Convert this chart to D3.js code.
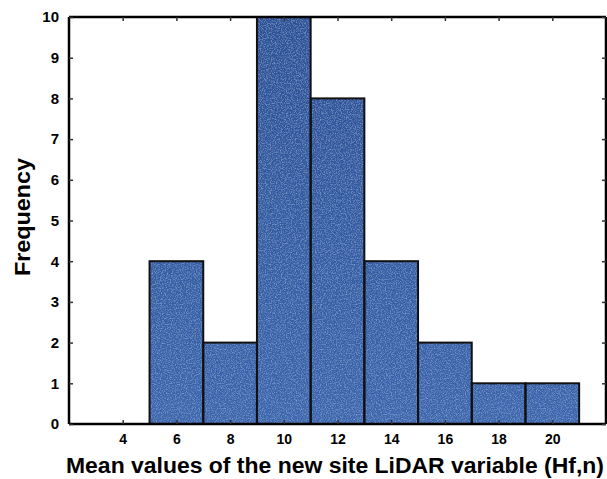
<!DOCTYPE html>
<html>
<head>
<meta charset="utf-8">
<script src="https://cdn.jsdelivr.net/npm/d3@7"></script>
<style>
  body { margin: 0; background: #fff; overflow: hidden; }
  svg { display: block; }
  text { font-family: "Liberation Sans", Arial, sans-serif; font-weight: bold; fill: #000; }
</style>
</head>
<body>
<div class="chart"></div>
<script>
// Histogram bins (lower edge, upper edge) and counts
const binStarts = [5, 7, 9, 11, 13, 15, 17, 19];
const binEnds = [7, 9, 11, 13, 15, 17, 19, 21];
const counts = [4, 2, 10, 8, 4, 2, 1, 1];
const xTicks = [4, 6, 8, 10, 12, 14, 16, 18, 20];
const yTicks = [0, 1, 2, 3, 4, 5, 6, 7, 8, 9, 10];

const outerWidth = 607;
const outerHeight = 479;
const margin = { top: 17, right: 1, bottom: 55, left: 69 };
const innerWidth = outerWidth - margin.left - margin.right;
const innerHeight = outerHeight - margin.top - margin.bottom;

const svg = d3.select('.chart')
  .append('svg')
    .attr('width', outerWidth)
    .attr('height', outerHeight);

// speckled print texture for the bars
const defs = svg.append('defs');
const filt = defs.append('filter').attr('id', 'speckle')
  .attr('x', 0).attr('y', 0).attr('width', 1).attr('height', 1);
filt.append('feTurbulence')
  .attr('type', 'fractalNoise').attr('baseFrequency', 0.8)
  .attr('numOctaves', 2).attr('seed', 3).attr('result', 'noise');
filt.append('feColorMatrix').attr('in', 'noise').attr('type', 'matrix')
  .attr('values', '0 0 0 0 0.45  0 0 0 0 0.62  0 0 0 0 0.92  0 0 0 1.0 -0.45')
  .attr('result', 'dots');
filt.append('feComposite').attr('in', 'dots').attr('in2', 'SourceGraphic')
  .attr('operator', 'atop').attr('result', 'tex');
filt.append('feMerge').call(m => {
  m.append('feMergeNode').attr('in', 'SourceGraphic');
  m.append('feMergeNode').attr('in', 'tex');
});

const chartG = svg.append('g')
  .attr('transform', `translate(${margin.left},${margin.top})`);

const x = d3.scaleLinear().domain([2, 22]).range([0, innerWidth]);
const y = d3.scaleLinear().domain([0, 10]).range([innerHeight, 0]);

const bins = counts.map((c, i) => ({ x0: binStarts[i], x1: binEnds[i], n: c }));

const grad = defs.append('linearGradient').attr('id', 'barfill')
  .attr('gradientUnits', 'userSpaceOnUse')
  .attr('x1', 0).attr('x2', 0)
  .attr('y1', 0).attr('y2', innerHeight);
grad.append('stop').attr('offset', '0%').attr('stop-color', '#2b5196');
grad.append('stop').attr('offset', '100%').attr('stop-color', '#3b66ad');

chartG.selectAll('.bar')
  .data(bins)
  .enter().append('rect')
    .attr('class', 'bar')
    .attr('x', d => x(d.x0))
    .attr('y', d => y(d.n))
    .attr('width', d => x(d.x1) - x(d.x0))
    .attr('height', d => y(0) - y(d.n))
    .attr('fill', 'url(#barfill)')
    .attr('filter', 'url(#speckle)');

chartG.selectAll('.bar-edge')
  .data(bins)
  .enter().append('rect')
    .attr('class', 'bar-edge')
    .attr('x', d => x(d.x0))
    .attr('y', d => y(d.n))
    .attr('width', d => x(d.x1) - x(d.x0))
    .attr('height', d => y(0) - y(d.n))
    .attr('fill', 'none')
    .attr('stroke', '#111')
    .attr('stroke-width', 2);

// axes with inward ticks, box style
const bottomAxis = d3.axisBottom(x).tickValues(xTicks).tickSize(-4).tickPadding(10);
const topAxis = d3.axisTop(x).tickValues(xTicks).tickSize(-4);
const leftAxis = d3.axisLeft(y).tickValues(yTicks).tickSize(-4).tickPadding(10);
const rightAxis = d3.axisRight(y).tickValues(yTicks).tickSize(-4);

const gb = chartG.append('g').attr('transform', `translate(0,${innerHeight})`).call(bottomAxis);
const gt = chartG.append('g').call(topAxis);
const gl = chartG.append('g').call(leftAxis);
const gr = chartG.append('g').attr('transform', `translate(${innerWidth},0)`).call(rightAxis);

// top and right frame carry ticks only
gt.selectAll('.tick text').remove();
gr.selectAll('.tick text').remove();

[gb, gt, gl, gr].forEach(g => {
  g.attr('font-family', '"Liberation Sans", Arial, sans-serif').attr('font-size', 14);
  g.select('.domain').attr('stroke', '#000').attr('stroke-width', 2.5);
  g.selectAll('.tick line').attr('stroke', '#333').attr('stroke-width', 1.5);
});
gl.attr('font-size', 15);
gb.selectAll('.domain').attr('d', `M0,0H${innerWidth}`);
gt.selectAll('.domain').attr('d', `M0,0H${innerWidth}`);
gl.selectAll('.domain').attr('d', `M0,0V${innerHeight}`);
gr.selectAll('.domain').attr('d', `M0,0V${innerHeight}`);

svg.append('text')
  .attr('x', 335)
  .attr('y', 473)
  .attr('text-anchor', 'middle')
  .attr('textLength', 538)
  .attr('lengthAdjust', 'spacingAndGlyphs')
  .attr('font-size', 22)
  .text('Mean values of the new site LiDAR variable (Hf,n)');

svg.append('text')
  .attr('transform', 'translate(30,217) rotate(-90)')
  .attr('text-anchor', 'middle')
  .attr('textLength', 118)
  .attr('lengthAdjust', 'spacingAndGlyphs')
  .attr('font-size', 22)
  .text('Frequency');
</script>
</body>
</html>
